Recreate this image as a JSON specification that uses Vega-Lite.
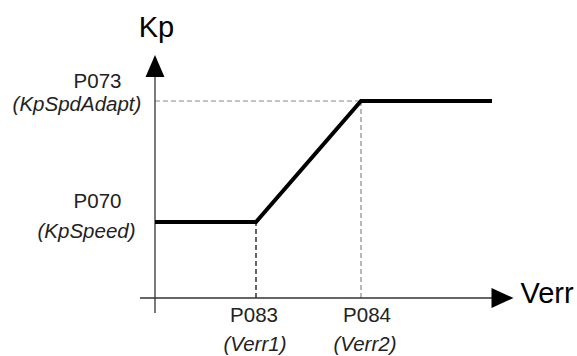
{
  "$schema": "https://vega.github.io/schema/vega-lite/v6.json",
  "width": 577,
  "height": 356,
  "autosize": {"type": "none"},
  "padding": 0,
  "background": "white",
  "config": {"view": {"stroke": null}},
  "datasets": {
    "axes": [
      {"name": "y", "x": 0, "x2": 0, "y": -0.15, "y2": 2.22},
      {"name": "x", "x": -0.15, "x2": 3.37, "y": 0, "y2": 0}
    ],
    "curve": [
      {"x": 0, "y": 0.76},
      {"x": 1.01, "y": 0.76},
      {"x": 2.06, "y": 1.97},
      {"x": 3.37, "y": 1.97}
    ],
    "grayGuides": [
      {"x": 0, "x2": 2.06, "y": 1.97, "y2": 1.97},
      {"x": 2.06, "x2": 2.06, "y": 0, "y2": 1.97}
    ],
    "blackGuides": [
      {"x": 1.01, "x2": 1.01, "y": 0, "y2": 0.76}
    ],
    "arrows": [
      {"dir": "up", "x": 0, "y": 2.32},
      {"dir": "right", "x": 3.475, "y": 0}
    ],
    "bigLabels": [
      {"text": "Kp", "x": 0.015, "y": 2.61},
      {"text": "Verr", "x": 3.92, "y": -0.05}
    ],
    "plainLabels": [
      {"text": "P073", "x": -0.575, "y": 2.1},
      {"text": "P070", "x": -0.575, "y": 0.9},
      {"text": "P083", "x": 0.99, "y": -0.24},
      {"text": "P084", "x": 2.12, "y": -0.24}
    ],
    "italicLabels": [
      {"text": "(KpSpdAdapt)", "x": -0.78, "y": 1.87},
      {"text": "(KpSpeed)", "x": -0.685, "y": 0.6},
      {"text": "(Verr1)", "x": 1.0, "y": -0.53},
      {"text": "(Verr2)", "x": 2.1, "y": -0.53}
    ]
  },
  "encoding": {
    "x": {"field": "x", "type": "quantitative", "axis": null, "scale": {"domain": [-1.55, 4.22], "nice": false, "zero": false}},
    "y": {"field": "y", "type": "quantitative", "axis": null, "scale": {"domain": [-0.58, 2.98], "nice": false, "zero": false}}
  },
  "layer": [
    {
      "data": {"name": "grayGuides"},
      "mark": {"type": "rule", "color": "#8a8a8a", "strokeWidth": 1.2, "strokeDash": [5, 3]},
      "encoding": {"x2": {"field": "x2"}, "y2": {"field": "y2"}}
    },
    {
      "data": {"name": "blackGuides"},
      "mark": {"type": "rule", "color": "#111111", "strokeWidth": 1.3, "strokeDash": [5, 3]},
      "encoding": {"x2": {"field": "x2"}, "y2": {"field": "y2"}}
    },
    {
      "data": {"name": "axes"},
      "mark": {"type": "rule", "color": "#333333", "strokeWidth": 1.3},
      "encoding": {"x2": {"field": "x2"}, "y2": {"field": "y2"}}
    },
    {
      "data": {"name": "curve"},
      "mark": {"type": "line", "color": "#000000", "strokeWidth": 4, "strokeJoin": "miter", "strokeCap": "butt"},
      "encoding": {"order": {"field": "x", "type": "quantitative"}}
    },
    {
      "data": {"name": "arrows"},
      "transform": [{"filter": "datum.dir === 'up'"}],
      "mark": {"type": "point", "shape": "M0,-1L-0.86,1L0.86,1Z", "size": 484, "filled": true, "color": "#000000", "opacity": 1, "strokeWidth": 0}
    },
    {
      "data": {"name": "arrows"},
      "transform": [{"filter": "datum.dir === 'right'"}],
      "mark": {"type": "point", "shape": "M1,0L-1,-0.9L-1,0.9Z", "size": 484, "filled": true, "color": "#000000", "opacity": 1, "strokeWidth": 0}
    },
    {
      "data": {"name": "bigLabels"},
      "mark": {"type": "text", "font": "Liberation Sans", "fontSize": 29, "align": "center", "baseline": "alphabetic", "color": "#000000"},
      "encoding": {"text": {"field": "text"}}
    },
    {
      "data": {"name": "plainLabels"},
      "mark": {"type": "text", "font": "Liberation Sans", "fontSize": 20.5, "align": "center", "baseline": "alphabetic", "color": "#222222"},
      "encoding": {"text": {"field": "text"}}
    },
    {
      "data": {"name": "italicLabels"},
      "mark": {"type": "text", "font": "Liberation Sans", "fontSize": 20.5, "fontStyle": "italic", "align": "center", "baseline": "alphabetic", "color": "#222222"},
      "encoding": {"text": {"field": "text"}}
    }
  ]
}
